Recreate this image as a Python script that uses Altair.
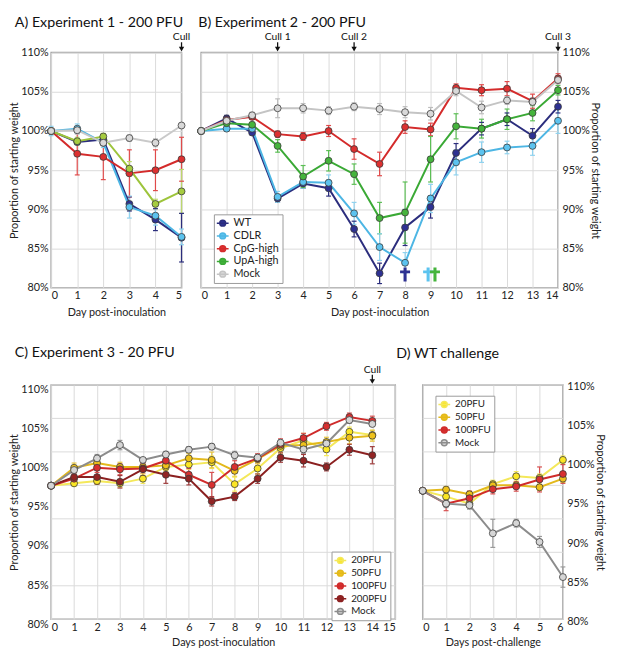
import altair as alt
import pandas as pd

FONT = "Lato"

# ---------------- Panel A: Experiment 1 - 200 PFU ----------------
a_days = [0, 1, 2, 3, 4, 5]
a_names = ["WT", "CDLR", "CpG-high", "UpA-high", "Mock"]
a_wt = [100, 98.6, 98.9, 90.7, 88.7, 86.4]
a_wt_err = [0, 0.3, 0.4, 0.9, 1.4, 3.1]
a_cdlr = [100, 100.3, 98.5, 90.3, 89.2, 86.5]
a_cdlr_err = [0.6, 0.6, 0.6, 1.4, 1.2, 1.0]
a_cpg = [100, 97.1, 96.7, 94.6, 95.0, 96.4]
a_cpg_err = [0, 2.7, 2.9, 3.0, 2.6, 2.8]
a_upa = [100, 98.7, 99.3, 95.2, 90.7, 92.3]
a_upa_err = [0, 0.5, 0.4, 0.9, 0.6, 2.8]
a_mock = [100, 100.1, 98.5, 99.1, 98.5, 100.7]
a_mock_err = [0, 0.5, 0.4, 0.4, 0.5, 0.3]
a_cull_days = [5]
a_cull_labels = ["Cull"]

# ---------------- Panel B: Experiment 2 - 200 PFU ----------------
b_days = list(range(15))
b_names = ["WT", "CDLR", "CpG-high", "UpA-high", "Mock"]
b_wt = [100, 101.6, 99.8, 91.4, 93.3, 92.7, 87.5, 81.85, 87.7, 90.3, 97.2, 100.3, 101.5, 99.4, 103.1]
b_wt_err = [0, 0.4, 0.3, 0.5, 0.6, 1.0, 1.0, 1.3, 2.3, 1.4, 1.2, 0.8, 0.8, 0.9, 0.8]
b_cdlr = [100, 100.3, 100.3, 91.6, 93.5, 93.4, 89.5, 85.2, 83.2, 91.4, 96.0, 97.3, 97.9, 98.1, 101.3]
b_cdlr_err = [0, 0.3, 0.4, 0.7, 0.8, 1.0, 1.4, 1.7, 1.3, 1.8, 1.6, 1.3, 0.8, 1.2, 1.6]
b_cpg = [100, 101.4, 101.8, 99.6, 99.3, 100.0, 97.7, 95.8, 100.5, 100.2, 105.5, 105.2, 105.4, 103.8, 106.7]
b_cpg_err = [0, 0.3, 0.3, 0.4, 0.5, 0.7, 1.3, 1.5, 0.8, 0.8, 0.5, 0.7, 0.9, 0.9, 0.6]
b_upa = [100, 101.0, 100.8, 98.1, 94.2, 96.2, 94.5, 88.9, 89.6, 96.4, 100.6, 100.3, 101.5, 102.3, 105.2]
b_upa_err = [0, 0.3, 0.3, 0.8, 1.4, 1.3, 1.3, 2.0, 3.9, 2.9, 1.6, 1.2, 1.3, 1.0, 0.6]
b_mock = [100, 101.3, 102.0, 102.9, 102.9, 102.6, 103.1, 102.8, 102.4, 102.2, 105.1, 103.0, 103.9, 103.7, 106.5]
b_mock_err = [0, 0.3, 0.4, 1.2, 0.6, 0.5, 0.5, 0.7, 0.7, 0.8, 0.6, 0.8, 0.5, 0.5, 0.5]
b_cull_days = [3, 6, 14]
b_cull_labels = ["Cull 1", "Cull 2", "Cull 3"]
b_death_days = [8, 9, 9]
b_death_series = ["WT", "CDLR", "UpA-high"]
b_death_level = 81.7
b_death_shift = [0, -2.5, 4.5]

# ---------------- Panel C: Experiment 3 - 20 PFU ----------------
c_days = list(range(15))
c_names = ["20PFU", "50PFU", "100PFU", "200PFU", "Mock"]
c_20 = [97.1, 97.4, 97.7, 97.4, 98.0, 99.5, 99.8, 100.1, 97.3, 99.3, 101.9, 102.9, 101.75, 104.0, 103.6]
c_20_err = [0, 0.4, 0.4, 0.5, 0.6, 0.5, 0.6, 0.8, 0.9, 0.7, 0.6, 0.9, 0.8, 0.6, 0.6]
c_50 = [97.1, 99.4, 100.0, 99.5, 99.5, 99.7, 100.6, 100.4, 99.0, 100.5, 102.2, 102.3, 102.7, 103.25, 103.5]
c_50_err = [0, 0.6, 0.5, 0.6, 0.5, 0.6, 0.6, 1.0, 0.7, 0.6, 0.6, 0.7, 0.6, 0.8, 0.7]
c_100 = [97.1, 98.0, 99.4, 99.2, 99.3, 100.3, 98.5, 97.2, 99.5, 100.6, 102.4, 103.2, 104.7, 105.9, 105.4]
c_100_err = [0, 0.6, 0.6, 0.7, 0.6, 0.7, 0.8, 1.6, 0.8, 0.6, 0.7, 0.6, 0.5, 0.5, 0.6]
c_200 = [97.1, 98.2, 98.2, 97.6, 99.2, 98.5, 98.0, 95.1, 95.7, 98.0, 100.7, 100.3, 99.5, 101.7, 101.0]
c_200_err = [0, 0.6, 0.9, 0.8, 0.8, 1.1, 0.8, 0.6, 0.5, 0.6, 0.6, 0.8, 0.5, 0.7, 1.1]
c_mock = [97.1, 99.1, 100.6, 102.3, 100.4, 101.1, 101.7, 102.1, 101.0, 100.7, 102.6, 101.75, 102.5, 105.5, 105.0]
c_mock_err = [0, 0.4, 0.5, 0.6, 0.3, 0.4, 0.4, 0.4, 0.5, 0.4, 0.4, 0.5, 0.4, 0.4, 0.3]
c_cull_days = [14]
c_cull_labels = ["Cull"]

# ---------------- Panel D: WT challenge ----------------
d_days = [0, 1, 2, 3, 4, 5, 6]
d_names = ["20PFU", "50PFU", "100PFU", "Mock"]
d_20 = [96.45, 95.7, 94.8, 97.3, 98.3, 98.1, 100.4]
d_20_err = [0, 0.4, 0.5, 0.5, 0.6, 0.5, 0.5]
d_50 = [96.45, 96.6, 96.0, 97.15, 97.15, 96.9, 98.0]
d_50_err = [0, 0.4, 0.4, 0.5, 0.4, 0.4, 0.5]
d_100 = [96.45, 94.8, 95.5, 96.65, 97.0, 97.9, 98.6]
d_100_err = [0, 0.9, 0.9, 0.6, 0.6, 1.6, 1.2]
d_mock = [96.45, 94.8, 94.6, 91.0, 92.3, 89.9, 85.4]
d_mock_err = [0, 0.5, 0.5, 1.8, 0.5, 0.7, 1.3]

y_ticks = [80, 85, 90, 95, 100, 105, 110]
grid_7 = [80 + 30 * k / 7 for k in range(8)]  # the 8 evenly spaced gridlines of panels C and D

# colours
ab_line = ["#2b2d7d", "#4db6e4", "#d42b2b", "#9dc43b", "#c9c9c9"]
ab_fill = ["#2e3192", "#5cc3ef", "#dd3030", "#a6cc40", "#d9d9d9"]
ab_err = ["#2b2d7d", "#8ed2ef", "#e04a4a", "#bcd86e", "#bdbdbd"]
b_line = ["#2b2d7d", "#4db6e4", "#d42b2b", "#3aa935", "#c4c4c4"]
b_fill = ["#2e3192", "#5cc3ef", "#dd3030", "#45b43c", "#d9d9d9"]
b_err = ["#2b2d7d", "#8ed2ef", "#e04a4a", "#5cbf55", "#bdbdbd"]
c_line = ["#f4e85a", "#e3b91c", "#cf2b2b", "#8b2020", "#8c8c8c"]
c_fill = ["#fbe625", "#efc21a", "#d83030", "#922424", "#d6d6d6"]
c_err = ["#f4e85a", "#e8c640", "#d85050", "#9e3b3b", "#9a9a9a"]
d_line = ["#f4e85a", "#e3b91c", "#cf2b2b", "#8c8c8c"]
d_fill = ["#fbe625", "#efc21a", "#d83030", "#d6d6d6"]
d_err = ["#f4e85a", "#e8c640", "#d85050", "#9a9a9a"]

LEG_PATH = "M-1.2,0L1.2,0M0.6,0A0.6,0.6,0,1,1,-0.6,0A0.6,0.6,0,1,1,0.6,0Z"
CROSS = "M-0.22,-1H0.22V-0.58H0.72V-0.18H0.22V1H-0.22V-0.18H-0.72V-0.58H-0.22Z"


def build_df(days, names, means, errs, err_cols):
    rows = []
    for name, m, e, ec in zip(names, means, errs, err_cols):
        for d, v, s in zip(days, m, e):
            rows.append({"day": d, "series": name, "value": v, "lo": v - s, "hi": v + s,
                         "err": s, "ecol": ec})
    return pd.DataFrame(rows)


def panel(df, names, line_cols, fill_cols, xmax, xtitle, yorient, w, h,
          title, title_dx, title_offset, legend_xy=None, legend_font=11,
          seven_grid=False, label_offset=0, culls=None, cull_y=-12.5, deaths=None, xtitle_pad=6):
    xs = alt.Scale(domain=[0, xmax], nice=False, zero=False)
    ys = alt.Scale(domain=[80, 110], nice=False, zero=False)
    xaxis = alt.Axis(values=list(range(xmax + 1)), title=xtitle, grid=True, format="d",
                     labelPadding=2, titlePadding=xtitle_pad)
    yaxis = alt.Axis(values=y_ticks, labelExpr="datum.value + '%'",
                     title="Proportion of starting weight", orient=yorient,
                     grid=not seven_grid, labelOffset=label_offset,
                     labelPadding=3 if yorient == "left" else 4,
                     titlePadding=1 if yorient == "left" else 0)
    if legend_xy is not None:
        legend = alt.Legend(title=None, orient="none", legendX=legend_xy[0], legendY=legend_xy[1],
                            symbolType=LEG_PATH, symbolSize=100, symbolStrokeWidth=1.5,
                            symbolOpacity=1,
                            labelFontSize=legend_font, labelFont=FONT, labelColor="#222",
                            strokeColor="#9a9a9a", fillColor="white", padding=3,
                            rowPadding=1, labelOffset=5)
    else:
        legend = None
    X = alt.X("day:Q", scale=xs, axis=xaxis)
    color = alt.Color("series:N", scale=alt.Scale(domain=names, range=line_cols), legend=legend)
    fill = alt.Fill("series:N", scale=alt.Scale(domain=names, range=fill_cols), legend=legend)
    stroke = alt.Stroke("ecol:N", scale=None)

    layers = []
    if seven_grid:
        layers.append(alt.Chart(pd.DataFrame({"g": grid_7})).mark_rule(color="#dadada", strokeWidth=1)
                      .encode(y=alt.Y("g:Q", scale=ys, axis=yaxis)))
    edf = df[df["err"] > 0]
    base = alt.Chart(edf)
    layers.append(base.mark_rule(strokeWidth=1.2).encode(
        x=X, y=alt.Y("lo:Q", scale=ys, axis=yaxis), y2="hi:Q", stroke=stroke))
    for end in ["lo", "hi"]:
        layers.append(base.mark_rule(strokeWidth=1.2, xOffset=-2.5, x2Offset=2.5).encode(
            x=X, x2="day:Q", y=alt.Y(f"{end}:Q", scale=ys, axis=yaxis), stroke=stroke))
    layers.append(alt.Chart(df).mark_line(strokeWidth=2).encode(
        x=X, y=alt.Y("value:Q", scale=ys, axis=yaxis), color=color))
    layers.append(alt.Chart(df).mark_point(filled=True, size=50, stroke="#3a3a3a", strokeWidth=0.8,
                                           opacity=1).encode(
        x=X, y=alt.Y("value:Q", scale=ys, axis=yaxis), fill=fill))
    if legend is not None:
        # invisible layer whose shape scale gives the legend its line-and-circle symbol
        layers.append(alt.Chart(df).mark_point(opacity=0, size=1).encode(
            x=X, y=alt.Y("value:Q", scale=ys, axis=yaxis),
            shape=alt.Shape("series:N", scale=alt.Scale(domain=names, range=[LEG_PATH] * len(names)),
                            legend=legend)))
    if deaths is not None:
        for d, s, sh in zip(*deaths):
            ddf = pd.DataFrame({"day": [d], "series": [s], "level": [b_death_level]})
            layers.append(alt.Chart(ddf).mark_point(shape=CROSS, filled=True, size=200, opacity=1,
                                                    strokeWidth=0, xOffset=sh).encode(
                x=X, y=alt.Y("level:Q", scale=ys, axis=yaxis), fill=fill))
    if culls is not None:
        cdf = pd.DataFrame({"day": culls[0], "label": culls[1]})
        cb = alt.Chart(cdf)
        layers.append(cb.mark_text(baseline="alphabetic", fontSize=10.5, font=FONT, color="#111").encode(
            x=X, y=alt.value(cull_y), text="label:N"))
        layers.append(cb.mark_rule(color="#111", strokeWidth=1.3).encode(
            x=X, y=alt.value(cull_y + 2), y2=alt.value(-4)))
        layers.append(cb.mark_point(shape="triangle-down", filled=True, size=30, color="#111",
                                    opacity=1).encode(x=X, y=alt.value(-3.5)))
    return alt.layer(*layers).properties(
        width=w, height=h,
        title=alt.TitleParams(title, frame="group", anchor="start", dx=title_dx, offset=title_offset))


pa = panel(build_df(a_days, a_names, [a_wt, a_cdlr, a_cpg, a_upa, a_mock],
                    [a_wt_err, a_cdlr_err, a_cpg_err, a_upa_err, a_mock_err], ab_err),
           a_names, ab_line, ab_fill, 5, "Day post-inoculation", "left", 133, 240,
           "A) Experiment 1 - 200 PFU", -37, 2, culls=(a_cull_days, a_cull_labels))
pb = panel(build_df(b_days, b_names, [b_wt, b_cdlr, b_cpg, b_upa, b_mock],
                    [b_wt_err, b_cdlr_err, b_cpg_err, b_upa_err, b_mock_err], b_err),
           b_names, b_line, b_fill, 14, "Day post-inoculation", "right", 364, 240,
           "B) Experiment 2 - 200 PFU", -3, 2, legend_xy=(13, 165),
           culls=(b_cull_days, b_cull_labels),
           deaths=(b_death_days, b_death_series, b_death_shift))
pc = panel(build_df(c_days, c_names, [c_20, c_50, c_100, c_200, c_mock],
                    [c_20_err, c_50_err, c_100_err, c_200_err, c_mock_err], c_err),
           c_names, c_line, c_fill, 15, "Days post-inoculation", "left", 351, 239,
           "C) Experiment 3 - 20 PFU", -37, 4, legend_xy=(286, 170), legend_font=10,
           seven_grid=True, label_offset=5, culls=(c_cull_days, c_cull_labels), cull_y=-12.5,
           xtitle_pad=5)
pd_ = panel(build_df(d_days, d_names, [d_20, d_50, d_100, d_mock],
                     [d_20_err, d_50_err, d_100_err, d_mock_err], d_err),
            d_names, d_line, d_fill, 6, "Days post-challenge", "right", 143, 239,
            "D) WT challenge", -27, 20, legend_xy=(13, 11), legend_font=10,
            seven_grid=True, label_offset=2, xtitle_pad=5)


def indep(c):
    return c.resolve_scale(color="independent", fill="independent", shape="independent",
                           x="independent", y="independent").resolve_legend(
        color="independent", fill="independent", shape="independent")


row1 = indep(alt.hconcat(pa, pb, spacing=4))
row2 = indep(alt.hconcat(pc, pd_, spacing=-2))
chart = indep(alt.vconcat(row1, row2, spacing=27)).properties(
    padding={"left": 0, "top": 0, "right": 3, "bottom": 0}
).configure(
    font=FONT
).configure_axis(
    labelFont=FONT, titleFont=FONT, labelFontSize=11, titleFontSize=11, labelColor="#222",
    titleColor="#222", titleFontWeight="normal", ticks=False, domain=False,
    gridColor="#dadada", gridWidth=1
).configure_view(stroke="#a0a0a0", strokeWidth=1.5).configure_title(
    font=FONT, fontSize=14.5, fontWeight="normal", color="#111"
)

chart.save("out.html", embed_options={"renderer": "svg", "actions": False})
